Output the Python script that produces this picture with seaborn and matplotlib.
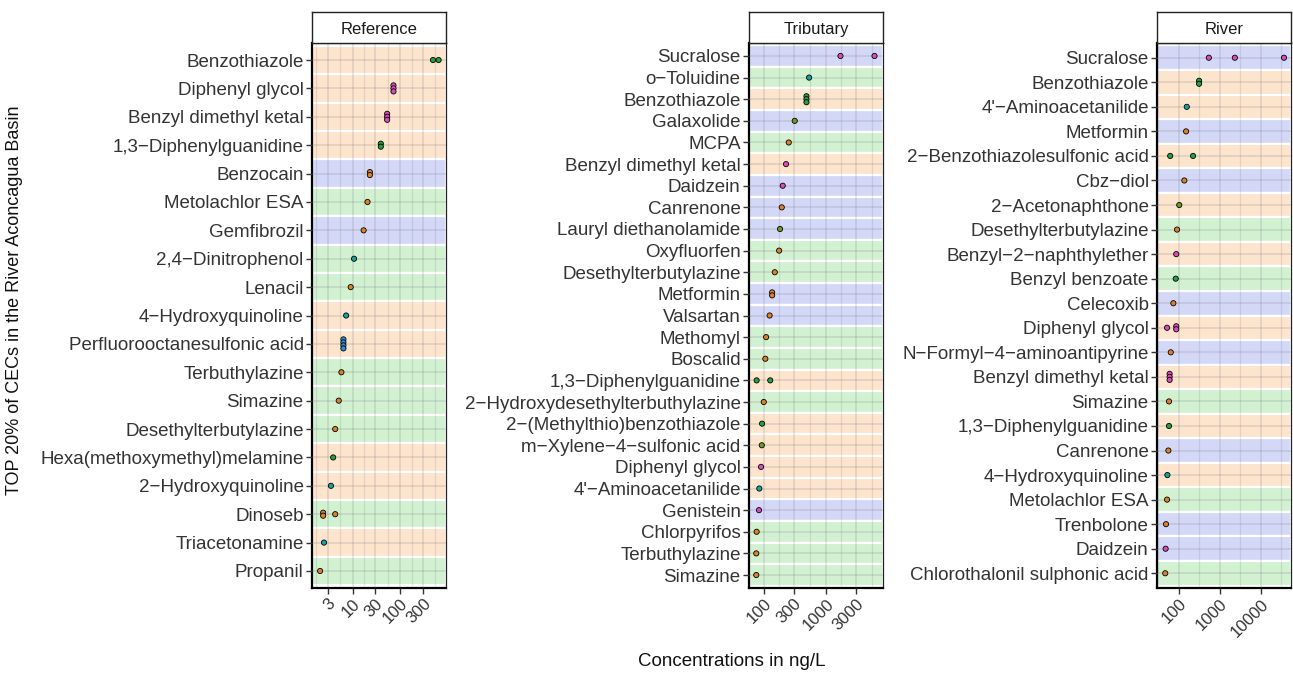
import numpy as np
import pandas as pd
import matplotlib
matplotlib.use("Agg")
import matplotlib.pyplot as plt
from matplotlib.ticker import FixedLocator, FixedFormatter, NullFormatter
import seaborn as sns

sns.set_theme(style="white")
plt.rcParams["font.family"] = ["Liberation Sans", "DejaVu Sans"]

# ---------------- data (top row first) ----------------
ref_compounds = ["Benzothiazole", "Diphenyl glycol", "Benzyl dimethyl ketal",
                 "1,3−Diphenylguanidine", "Benzocain", "Metolachlor ESA", "Gemfibrozil",
                 "2,4−Dinitrophenol", "Lenacil", "4−Hydroxyquinoline",
                 "Perfluorooctanesulfonic acid", "Terbuthylazine", "Simazine",
                 "Desethylterbutylazine", "Hexa(methoxymethyl)melamine",
                 "2−Hydroxyquinoline", "Dinoseb", "Triacetonamine", "Propanil"]
ref_values = [[486, 638], [72, 72, 72], [53, 53, 53], [39, 39], [23, 23], [20.5], [17],
              [10.7], [9.1], [7.3], [6.4, 6.4, 6.4, 6.4], [5.8], [5.1], [4.3], [3.9],
              [3.5], [2.4, 2.4, 4.3], [2.5], [2.07]]
ref_bands = ["peach", "peach", "peach", "peach", "lavender", "mint", "lavender", "mint",
             "mint", "peach", "peach", "mint", "mint", "mint", "peach", "peach", "mint",
             "peach", "mint"]
ref_dots = ["green", "pink", "pink", "green", "orange", "orange", "orange", "teal",
            "orange", "teal", "blue", "orange", "orange", "orange", "green", "teal",
            "orange", "teal", "orange"]

trib_compounds = ["Sucralose", "o−Toluidine", "Benzothiazole", "Galaxolide", "MCPA",
                  "Benzyl dimethyl ketal", "Daidzein", "Canrenone", "Lauryl diethanolamide",
                  "Oxyfluorfen", "Desethylterbutylazine", "Metformin", "Valsartan",
                  "Methomyl", "Boscalid", "1,3−Diphenylguanidine",
                  "2−Hydroxydesethylterbuthylazine", "2−(Methylthio)benzothiazole",
                  "m−Xylene−4−sulfonic acid", "Diphenyl glycol", "4'−Aminoacetanilide",
                  "Genistein", "Chlorpyrifos", "Terbuthylazine", "Simazine"]
trib_values = [[1700, 6000], [532], [482, 482, 482], [312], [250], [226], [200], [193],
               [181], [175], [149], [135, 135], [123], [108], [105], [76, 126], [99],
               [93], [92], [89.5], [84], [83], [76], [75], [75]]
trib_bands = ["lavender", "mint", "peach", "lavender", "mint", "peach", "lavender",
              "lavender", "lavender", "mint", "mint", "lavender", "lavender", "mint",
              "mint", "peach", "mint", "peach", "peach", "peach", "peach", "lavender",
              "mint", "mint", "mint"]
trib_dots = ["pink", "teal", "green", "olive", "orange", "pink", "pink", "orange", "olive",
             "orange", "orange", "orange", "orange", "orange", "orange", "green", "orange",
             "green", "olive", "pink", "teal", "pink", "orange", "orange", "orange"]

river_compounds = ["Sucralose", "Benzothiazole", "4'−Aminoacetanilide", "Metformin",
                   "2−Benzothiazolesulfonic acid", "Cbz−diol", "2−Acetonaphthone",
                   "Desethylterbutylazine", "Benzyl−2−naphthylether", "Benzyl benzoate",
                   "Celecoxib", "Diphenyl glycol", "N−Formyl−4−aminoantipyrine",
                   "Benzyl dimethyl ketal", "Simazine", "1,3−Diphenylguanidine",
                   "Canrenone", "4−Hydroxyquinoline", "Metolachlor ESA", "Trenbolone",
                   "Daidzein", "Chlorothalonil sulphonic acid"]
river_values = [[540, 2320, 36400], [313, 313], [157], [151], [62, 223], [137], [103],
                [91], [87], [84.5], [74], [52, 87, 87], [64], [60, 60, 60], [58], [58],
                [56], [53], [52], [49], [48], [47]]
river_bands = ["lavender", "peach", "peach", "lavender", "peach", "lavender", "peach",
               "mint", "peach", "mint", "lavender", "peach", "lavender", "peach", "mint",
               "peach", "lavender", "peach", "mint", "lavender", "lavender", "mint"]
river_dots = ["pink", "green", "teal", "orange", "green", "orange", "olive", "orange",
              "pink", "green", "orange", "pink", "orange", "pink", "orange", "green",
              "orange", "teal", "orange", "orange", "pink", "orange"]

panel_titles = ["Reference", "Tributary", "River"]
ref_breaks = [3, 10, 30, 100, 300]
trib_breaks = [100, 300, 1000, 3000]
river_breaks = [100, 1000, 10000]

# ---------------- styling ----------------
band_palette = {"peach": "#FDE4CC", "lavender": "#D4D8F7", "mint": "#D2F1D0"}
dot_palette = {"green": "#21A040", "pink": "#D84CBC", "orange": "#D9822B",
               "teal": "#14A2A2", "blue": "#2F8AD0", "olive": "#6F9A1F"}

W, H = 1293, 674
fig = plt.figure(figsize=(W / 100, H / 100), dpi=100)

panel_top, panel_bottom = 43, 588
strip_top = 12
panels = [
    dict(x0=312, x1=446, names=ref_compounds, vals=ref_values, bands=ref_bands,
         dots=ref_dots, breaks=ref_breaks, ext=[1, 1000], xlim=(1.40, 912)),
    dict(x0=749, x1=883, names=trib_compounds, vals=trib_values, bands=trib_bands,
         dots=trib_dots, breaks=trib_breaks, ext=[30, 10000], xlim=(57.3, 8220)),
    dict(x0=1157, x1=1291, names=river_compounds, vals=river_values, bands=river_bands,
         dots=river_dots, breaks=river_breaks, ext=[10, 100000], xlim=(29.6, 53900)),
]

text_col = "#333333"
grid_col = "#6a6a80"
stack_px = 3.0  # vertical spacing of tied values, in pixels

for title, p in zip(panel_titles, panels):
    n = len(p["names"])
    left = p["x0"] / W
    width = (p["x1"] - p["x0"]) / W
    bottom = 1 - panel_bottom / H
    height = (panel_bottom - panel_top) / H
    ax = fig.add_axes([left, bottom, width, height])

    px_per_row = (panel_bottom - panel_top) / (n + 0.2)
    step = stack_px / px_per_row

    rows = []
    for i, (name, vals, dot) in enumerate(zip(p["names"], p["vals"], p["dots"])):
        vals = list(vals)
        for v in sorted(set(vals)):
            m = vals.count(v)
            for k in range(m):
                rows.append(dict(compound=name, value=v, dot=dot,
                                 ypos=i + (k - (m - 1) / 2) * step))
    df = pd.DataFrame(rows)

    # row bands
    for i, b in enumerate(p["bands"]):
        ax.axhspan(i - 0.5, i + 0.5, facecolor=band_palette[b], edgecolor="white",
                   linewidth=1.6, zorder=1)

    sns.scatterplot(data=df, x="value", y="ypos", hue="dot", palette=dot_palette,
                    s=14, edgecolor="black", linewidth=0.6, legend=False, ax=ax,
                    zorder=4)

    ax.set_xscale("log")
    ax.set_xlim(*p["xlim"])
    ax.set_ylim(n - 1 + 0.6, -0.6)

    # major breaks and the minor breaks halfway between them (log space)
    lo, hi = p["ext"]
    seq = sorted(set([lo] + p["breaks"] + [hi]))
    minors = np.sqrt(np.array(seq[:-1]) * np.array(seq[1:]))
    ax.xaxis.set_major_locator(FixedLocator(p["breaks"]))
    ax.xaxis.set_major_formatter(FixedFormatter([str(v) for v in p["breaks"]]))
    ax.xaxis.set_minor_locator(FixedLocator(minors))
    ax.xaxis.set_minor_formatter(NullFormatter())

    ax.set_yticks(range(n))
    ax.set_yticklabels(p["names"])

    ax.set_axisbelow(False)
    ax.grid(which="major", axis="both", color=grid_col, alpha=0.2, linewidth=1.1)
    ax.grid(which="minor", axis="x", color=grid_col, alpha=0.16, linewidth=0.9)

    ax.tick_params(axis="y", which="major", length=4, width=1.0, color=text_col,
                   labelsize=13.5, labelcolor=text_col, pad=2, left=True)
    ax.tick_params(axis="x", which="major", length=4, width=1.0, color=text_col,
                   labelsize=12, labelcolor=text_col, pad=2, bottom=True)
    ax.tick_params(axis="x", which="minor", length=0)
    for lab in ax.get_xticklabels():
        lab.set_rotation(45)
        lab.set_ha("right")
        lab.set_va("top")
        lab.set_rotation_mode("anchor")

    for side in ["left", "bottom"]:
        ax.spines[side].set_color("black")
        ax.spines[side].set_linewidth(1.6)
    for side in ["top", "right"]:
        ax.spines[side].set_color("#222222")
        ax.spines[side].set_linewidth(0.9)
        ax.spines[side].set_visible(True)
    ax.set_xlabel("")
    ax.set_ylabel("")

    # facet strip
    sax = fig.add_axes([left, 1 - panel_top / H, width, (panel_top - strip_top) / H])
    sax.set_facecolor("white")
    sax.set_xticks([])
    sax.set_yticks([])
    for s in sax.spines.values():
        s.set_color("#222222")
        s.set_linewidth(1.0)
    sax.text(0.5, 0.45, title, ha="center", va="center", fontsize=12, color="#1a1a1a",
             transform=sax.transAxes)

fig.text(15 / W, 1 - 300 / H, "TOP 20% of CECs in the River Aconcagua Basin",
         rotation=90, ha="center", va="center", fontsize=13, color="#111111")
fig.text(732 / W, 1 - 662 / H, "Concentrations in ng/L", ha="center", va="center",
         fontsize=13.5, color="#111111")

fig.savefig("out.png", dpi=100, facecolor="white")
